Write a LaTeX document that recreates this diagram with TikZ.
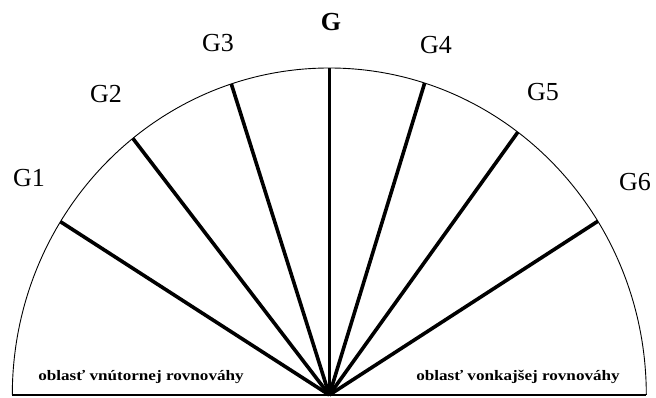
\documentclass[tikz,border=0pt]{standalone}
\usepackage{fontspec}
\setmainfont{Liberation Serif}
\usetikzlibrary{calc}
\begin{document}
\begin{tikzpicture}[x=1pt,y=1pt,
  spoke/.style={line width=3.6pt},
  rim/.style={line width=0.9pt},
  base/.style={line width=1.5pt},
  glabel/.style={font=\fontsize{26}{30}\selectfont, inner sep=0pt},
  region/.style={font=\fontsize{14.5}{17}\selectfont\bfseries, inner sep=0pt}]
\useasboundingbox[fill=white] (0,0) rectangle (656,398);
\def\rx{317}\def\ry{327}
\coordinate (O) at (329.3,3);
\coordinate (L) at ($(O)+(-\rx,0)$);
\coordinate (R) at ($(O)+(\rx,0)$);
\coordinate (e1) at ($(O)+({\rx*cos(148.0)},{\ry*sin(148.0)})$);
\coordinate (e2) at ($(O)+({\rx*cos(128.3)},{\ry*sin(128.3)})$);
\coordinate (e3) at ($(O)+({\rx*cos(108.0)},{\ry*sin(108.0)})$);
\coordinate (e0) at ($(O)+(0,\ry)$);
\coordinate (e4) at ($(O)+({\rx*cos(72.5)},{\ry*sin(72.5)})$);
\coordinate (e5) at ($(O)+({\rx*cos(53.5)},{\ry*sin(53.5)})$);
\coordinate (e6) at ($(O)+({\rx*cos(32.1)},{\ry*sin(32.1)})$);
\draw[rim] (R) arc[start angle=0, end angle=180, x radius=\rx, y radius=\ry];
\draw[base] (L) -- (R);
\foreach \i in {1,2,3,0,4,5,6} {\draw[spoke] (O) -- (e\i);}
\node[glabel] (g1) at (29,220) {G1};
\node[glabel] (g2) at (106,304) {G2};
\node[glabel] (g3) at (218,355) {G3};
\node[glabel, font=\fontsize{26}{30}\selectfont\bfseries] (g0) at (331,376) {G};
\node[glabel] (g4) at (436,353) {G4};
\node[glabel] (g5) at (543,306) {G5};
\node[glabel] (g6) at (635,216) {G6};
\node[region] (inner) at (141,21) {\scalebox{1.18}[1]{oblasť vnútornej rovnováhy}};
\node[region] (outer) at (518,21) {\scalebox{1.18}[1]{oblasť vonkajšej rovnováhy}};
\end{tikzpicture}
\end{document}
